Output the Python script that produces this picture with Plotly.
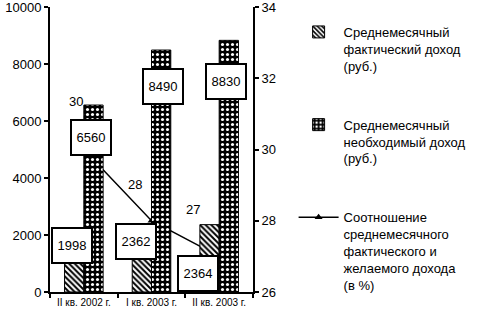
import plotly.graph_objects as go

categories = ["II кв. 2002 г.", "I кв. 2003 г.", "II кв. 2003 г."]
fact_income = [1998, 2362, 2364]
need_income = [6560, 8490, 8830]
ratio_pct = [30, 28, 27]
left_ticks = [0, 2000, 4000, 6000, 8000, 10000]
right_ticks = [26, 28, 30, 32, 34]

name_fact = "Среднемесячный<br>фактический доход<br>(руб.)"
name_need = "Среднемесячный<br>необходимый доход<br>(руб.)"
name_ratio = "Соотношение<br>среднемесячного<br>фактического и<br>желаемого дохода<br>(в %)"

FONT = "Liberation Sans, Arial, sans-serif"

fig = go.Figure()
fig.add_trace(go.Bar(
    x=categories, y=fact_income, name=name_fact, yaxis="y2", xaxis="x",
    legendgroup="a",
    marker=dict(color="white", line=dict(color="black", width=1),
                pattern=dict(shape="\\", fgcolor="black", bgcolor="white",
                             size=4, solidity=0.5, fillmode="replace")),
))
fig.add_trace(go.Bar(
    x=categories, y=need_income, name=name_need, yaxis="y2", xaxis="x",
    legendgroup="b",
    marker=dict(color="black", line=dict(color="black", width=1),
                pattern=dict(shape=".", fgcolor="white", bgcolor="black",
                             size=5, solidity=0.3, fillmode="replace")),
))
fig.add_trace(go.Scatter(
    x=categories, y=ratio_pct, name=name_ratio, yaxis="y", xaxis="x",
    legendgroup="c", mode="lines+markers",
    line=dict(color="black", width=1.5),
    marker=dict(symbol="triangle-up", size=7, color="black"),
))

annotations = []
box_font = dict(family=FONT, size=13, color="black")
fact_shifts = [(-12, -10), (-16, -17), (-21, -49)]
need_shifts = [(7, -32), (11, -36), (7, -41)]
for vals, shifts in ((fact_income, fact_shifts), (need_income, need_shifts)):
    for c, v, (dx, dy) in zip(categories, vals, shifts):
        annotations.append(dict(x=c, y=v, xref="x", yref="y2", text=str(v),
                                xshift=dx, yshift=dy, showarrow=False,
                                bgcolor="white", bordercolor="black",
                                borderwidth=2, borderpad=1, width=36, height=31,
                                font=box_font))
ratio_shifts = [(-8, 48), (-17, 36), (-26, 47)]
for c, v, (dx, dy) in zip(categories, ratio_pct, ratio_shifts):
    annotations.append(dict(x=c, y=v, xref="x", yref="y", text=str(v),
                            xshift=dx, yshift=dy, showarrow=False,
                            font=box_font))

axis_common = dict(showline=True, linecolor="black", linewidth=2,
                   ticks="outside", ticklen=4, tickwidth=1.5, tickcolor="black",
                   showgrid=False, zeroline=False, automargin=False,
                   ticklabeloverflow="allow")

fig.update_layout(
    width=478, height=316,
    margin=dict(l=50, r=216, t=7, b=24),
    paper_bgcolor="white", plot_bgcolor="white",
    font=dict(family=FONT, size=13, color="black"),
    barmode="group", bargap=0.43, bargroupgap=0,
    showlegend=True,
    legend=dict(x=1.2, xanchor="left", y=0.965, yanchor="top",
                valign="top", tracegroupgap=39, traceorder="grouped",
                font=dict(family=FONT, size=13, color="black"),
                itemwidth=40, bgcolor="rgba(0,0,0,0)"),
    xaxis=dict(type="category", tickson="boundaries",
               tickfont=dict(family=FONT, size=10, color="black"), **axis_common),
    yaxis=dict(side="right", range=[26, 34], tickvals=right_ticks,
               tickfont=dict(family=FONT, size=13, color="black"), **axis_common),
    yaxis2=dict(overlaying="y", side="left", range=[0, 10000],
                tickvals=left_ticks, tickformat="d", anchor="x",
                tickfont=dict(family=FONT, size=13, color="black"), **axis_common),
    annotations=annotations,
)

fig.write_html(
    "out.html",
    config={"displayModeBar": False},
    post_script="document.body.style.margin='0px';"
                "document.body.style.overflow='hidden';"
                "document.documentElement.style.overflow='hidden';",
)
